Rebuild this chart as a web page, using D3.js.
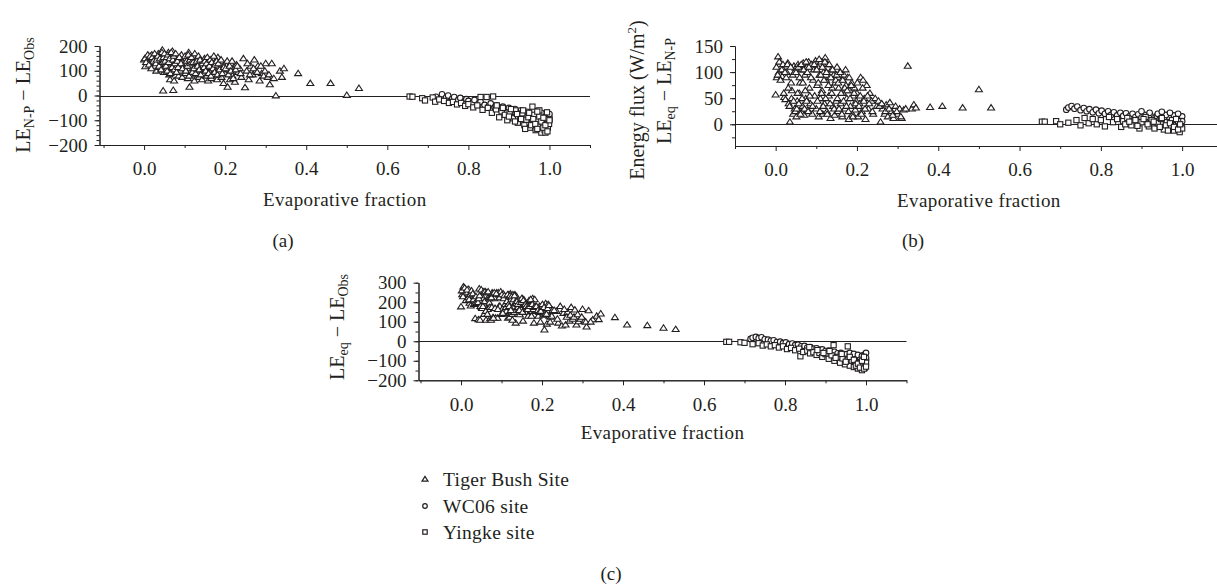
<!DOCTYPE html>
<html><head><meta charset="utf-8">
<script src="https://cdn.jsdelivr.net/npm/d3@7"></script>
<style>
body{margin:0;background:#fff}
svg text{font-family:"Liberation Serif","Times New Roman",serif;fill:#231f20}
</style>
</head><body><svg id="c" width="1217" height="588"></svg>
<script>
// ---------------- DATA ----------------
const xTickValues = [0, 0.2, 0.4, 0.6, 0.8, 1.0];
const xMinorValues = [-0.1, 0.1, 0.3, 0.5, 0.7, 0.9, 1.1];
const yTicksA = [-200, -100, 0, 100, 200];
const yTicksB = [0, 50, 100, 150];
const yTicksC = [-200, -100, 0, 100, 200, 300];
const legendLabels = ["Tiger Bush Site", "WC06 site", "Yingke site"];
const panelLabels = ["(a)", "(b)", "(c)"];
const xAxisTitle = "Evaporative fraction";

// Tiger Bush site: evaporative fraction and the three differences (batch 1)
const tigerEF = [0.000,0.003,0.006,0.008,0.010,0.013,0.016,0.019,0.021,0.024,0.027,0.030,0.032,0.035,0.038,0.040,0.043,0.045,0.047,0.049,
 0.051,0.053,0.055,0.058,0.060,0.062,0.064,0.066,0.068,0.070,0.072,0.074,0.077,0.079,0.081,0.083,0.085,0.088,0.090,0.092,0.094,0.096,0.098,
 0.100,0.102,0.104,0.106,0.108,0.110,0.112,0.114,0.116,0.118,0.120,0.122,0.124,0.126,0.128,0.131,0.133,0.135,0.137,0.139,0.141,0.143,0.145,0.147,0.149,
 0.151,0.153,0.155,0.158,0.160,0.162,0.164,0.166,0.168,0.171,0.173,0.175,0.177,0.180,0.182,0.184,0.187,0.189,0.191,0.194,0.196,0.198,
 0.200,0.203,0.206,0.209,0.212,0.215,0.218,0.221,0.224,0.228,0.232,0.236,0.240,0.245,0.249,
 0.253,0.258,0.263,0.268,0.272,0.276,0.281,0.285,0.290,0.295,0.300,0.305,0.310,0.315,0.325,0.335,0.340,0.345,
 0.380,0.410,0.460,0.500,0.530];
const tigerA = [145,118,150,160,140,155,130,165,145,135,120,100,150,170,115,140,130,185,20,95,
 160,125,105,145,175,85,65,130,110,180,22,60,140,95,120,150,80,135,100,165,75,125,145,
 110,90,150,130,70,175,35,120,100,140,85,160,60,115,130,95,150,75,125,105,140,65,120,90,150,
 110,80,145,60,125,95,135,70,115,150,85,105,130,65,155,120,95,140,75,110,50,125,
 90,120,35,105,65,130,80,115,55,125,95,110,75,150,33,
 100,65,120,85,145,100,120,60,90,80,130,75,45,130,0,100,75,110,
 90,50,50,2,30];
const tigerB = [57,90,130,100,120,95,92,105,52,48,100,118,40,5,80,65,20,112,30,108,
 15,45,115,60,80,25,105,35,118,18,95,50,110,28,120,70,40,115,20,85,105,55,122,
 30,75,110,15,95,50,120,65,20,100,40,128,85,25,115,55,90,12,105,70,35,95,18,80,45,
 110,25,70,100,40,85,15,60,95,30,75,50,90,10,65,35,80,20,55,70,28,45,
 60,15,40,90,25,85,50,10,75,30,60,45,20,50,35,
 45,5,30,20,38,15,42,25,12,35,20,30,12,28,112,30,38,32,
 33,35,32,67,32];
const tigerC = [178,240,280,260,255,250,222,268,197,183,220,218,190,118,195,205,112,270,110,203,
 175,170,220,205,255,110,170,165,228,198,117,110,250,123,240,220,120,250,120,250,180,180,255,
 140,165,245,145,165,225,155,185,120,240,125,245,145,140,240,150,240,95,230,175,175,160,138,170,195,
 220,105,215,160,165,180,150,130,210,180,160,155,220,95,215,155,175,160,130,180,100,170,
 150,135,60,195,90,190,130,125,130,155,155,155,95,180,80,
 145,85,150,105,175,115,162,85,102,115,165,105,75,158,112,130,113,142,
 123,85,82,69,62];

// Tiger Bush site (batch 2)
const tigerEF2 = [0.002,0.005,0.009,0.012,0.015,0.018,0.020,0.023,0.026,0.029,0.031,0.034,0.037,0.039,0.042,0.044,0.046,0.048,
 0.050,0.052,0.054,0.056,0.057,0.059,0.061,0.063,0.065,0.067,0.069,0.071,0.073,0.075,0.076,0.078,0.080,0.082,0.084,0.087,0.091,0.095,
 0.101,0.103,0.105,0.107,0.109,0.111,0.113,0.115,0.117,0.119,0.121,0.123,0.125,0.127,0.130,0.132,0.134,0.136,0.138,0.140,0.144,0.148,
 0.150,0.152,0.154,0.156,0.159,0.161,0.163,0.165,0.167,0.170,0.172,0.174,0.176,0.179,0.181,0.183,0.186,0.190,0.193,0.197,
 0.201,0.205,0.208,0.211,0.214,0.217,0.220,0.226,0.230,0.238,
 0.255,0.261,0.270,0.279,0.288,0.298,0.308,0.320];
const tigerA2 = [150,135,165,125,160,110,155,140,170,130,145,160,120,150,105,175,135,155,
 170,140,120,155,100,165,135,150,90,175,115,145,160,105,130,170,95,140,115,155,130,110,
 160,100,140,120,165,80,145,130,155,95,135,110,170,90,140,120,160,105,145,85,130,115,
 140,100,130,155,90,120,145,80,135,110,160,95,125,140,85,130,105,145,90,115,
 110,140,85,120,100,140,70,105,120,90,
 130,85,110,95,120,100,85,70];
const tigerB2 = [110,95,120,85,105,115,60,100,90,115,70,35,110,50,95,45,100,25,
 100,30,60,110,40,90,20,115,50,80,105,30,65,120,45,100,25,110,55,90,35,115,
 105,45,80,125,25,95,60,110,35,85,120,50,100,20,75,115,40,90,60,105,30,85,
 95,50,80,30,100,60,20,85,45,70,105,35,65,25,90,50,75,15,60,40,
 80,35,55,20,70,45,30,55,40,25,
 35,40,25,30,18,25,15,30];
const tigerC2 = [260,230,275,210,265,225,215,240,260,245,215,195,230,200,200,220,235,180,
 265,170,180,255,140,255,155,250,140,255,220,175,225,225,175,245,120,250,170,245,165,225,
 240,145,220,235,190,175,205,240,190,180,235,160,230,110,215,235,200,195,205,190,160,200,
 220,150,210,185,190,180,165,165,180,180,215,130,190,165,175,180,180,160,150,155,
 190,175,140,140,170,185,100,160,160,115,
 165,125,135,125,138,125,100,100];

// WC06 site [EF, value]
const wcA = [[0.720,-5],[0.735,5],[0.745,-8],[0.750,0],[0.760,-14],[0.765,-6],[0.775,-18],[0.780,-10],[0.790,-24],[0.795,-15],[0.800,-22],[0.810,-30],[0.815,-18],[0.825,-34],[0.830,-25],[0.840,-38],[0.850,-44],[0.855,-32],[0.865,-48],[0.870,-40],[0.880,-54],[0.885,-45],[0.895,-60],[0.900,-50],[0.910,-66],[0.915,-55],[0.925,-72],[0.930,-60],[0.940,-78],[0.945,-66],[0.955,-84],[0.960,-72],[0.970,-90],[0.975,-78],[0.985,-96],[0.990,-82],[0.995,-70],[1.000,-100],[1.000,-88],
 [0.960,-60],[0.970,-75],[0.980,-70],[0.990,-90],[0.995,-100],[1.000,-75]];
const wcB = [[0.715,28],[0.720,32],[0.728,35],[0.735,30],[0.742,34],[0.750,27],[0.758,31],[0.765,25],[0.772,29],[0.780,23],[0.788,28],[0.795,21],[0.802,26],[0.810,20],[0.818,25],[0.825,18],[0.832,23],[0.840,17],[0.848,22],[0.855,16],[0.862,21],[0.870,15],[0.878,20],[0.885,14],[0.892,19],[0.900,13],[0.908,18],[0.915,12],[0.922,17],[0.930,11],[0.938,16],[0.945,10],[0.952,15],[0.960,9],[0.968,14],[0.975,8],[0.982,13],[0.990,7],[0.995,12],[1.000,15],[1.000,6],
 [0.900,25],[0.920,22],[0.940,20],[0.960,18],[0.980,17],[0.990,20],[0.970,22],[0.950,24]];
const wcC = [[0.715,12],[0.720,18],[0.728,22],[0.735,16],[0.742,20],[0.750,10],[0.758,8],[0.765,2],[0.772,5],[0.780,-4],[0.788,-2],[0.795,-10],[0.802,-6],[0.810,-15],[0.818,-12],[0.825,-20],[0.832,-18],[0.840,-26],[0.848,-24],[0.855,-32],[0.862,-30],[0.870,-38],[0.878,-36],[0.885,-44],[0.892,-42],[0.900,-50],[0.908,-48],[0.915,-56],[0.922,-54],[0.930,-62],[0.938,-60],[0.945,-68],[0.952,-66],[0.960,-74],[0.968,-72],[0.975,-80],[0.982,-78],[0.990,-86],[0.995,-70],[1.000,-95],[1.000,-60],
 [0.960,-60],[0.970,-65],[0.980,-70],[0.990,-75],[1.000,-85],[0.985,-95],[0.995,-100]];

// Yingke site [EF, value]
const yingkeA = [[0.655,-4],[0.662,-5],[0.686,-11],[0.693,-20],[0.712,-8],[0.718,-25],[0.728,-16],[0.740,-22],[0.752,-30],[0.762,-26],[0.772,-36],[0.782,-30],[0.792,-42],[0.800,-35],[0.812,-48],[0.822,-40],[0.830,-6],[0.845,-6],[0.861,-4],[0.835,-58],[0.848,-50],[0.858,-70],[0.868,-56],[0.876,-88],[0.882,-64],[0.890,-78],[0.896,-100],[0.902,-68],[0.910,-92],[0.916,-60],[0.922,-110],[0.928,-84],[0.933,-72],[0.938,-120],[0.943,-98],[0.948,-88],[0.952,-130],[0.957,-108],[0.962,-78],[0.966,-140],[0.971,-100],[0.975,-125],[0.980,-150],[0.984,-112],[0.988,-140],[0.992,-95],[0.996,-130],[0.999,-115],[0.994,-68],[0.958,-45],[0.975,-60],[0.990,-150],
 [0.870,-40],[0.885,-50],[0.900,-85],[0.905,-55],[0.915,-105],[0.920,-75],[0.930,-95],[0.935,-60],[0.940,-135],[0.950,-70],[0.955,-120],[0.960,-95],[0.965,-115],[0.970,-135],[0.975,-85],[0.980,-105],[0.985,-130],[0.990,-120],[0.995,-145],[1.000,-100],[0.985,-90],[0.970,-65]];
const yingkeB = [[0.655,5],[0.662,5],[0.690,6],[0.700,0],[0.720,3],[0.740,8],[0.750,-2],[0.760,12],[0.770,2],[0.780,10],[0.790,0],[0.800,8],[0.810,-4],[0.820,14],[0.830,4],[0.840,10],[0.850,-5],[0.855,6],[0.865,12],[0.875,-2],[0.885,8],[0.895,-8],[0.900,4],[0.910,14],[0.918,-4],[0.925,8],[0.932,-8],[0.940,2],[0.948,10],[0.955,-10],[0.962,4],[0.968,-6],[0.975,8],[0.980,-12],[0.985,-2],[0.990,6],[0.994,-15],[0.998,-5],[1.000,-8],
 [0.860,0],[0.870,5],[0.890,-3],[0.905,10],[0.915,0],[0.930,5],[0.945,-5],[0.950,12],[0.960,-2],[0.965,-12],[0.970,2],[0.980,-5],[0.990,-10],[0.995,0],[0.985,10]];
const yingkeC = [[0.655,-3],[0.662,-3],[0.690,-5],[0.700,-8],[0.720,-15],[0.735,-10],[0.745,-22],[0.755,-16],[0.765,-26],[0.775,-20],[0.785,-32],[0.795,-26],[0.805,-40],[0.815,-34],[0.825,-46],[0.835,-38],[0.838,-77],[0.845,-55],[0.855,-48],[0.862,-62],[0.870,-56],[0.878,-70],[0.885,-60],[0.892,-80],[0.900,-66],[0.908,-90],[0.915,-72],[0.920,-20],[0.922,-100],[0.930,-80],[0.936,-110],[0.942,-88],[0.948,-118],[0.955,-26],[0.955,-95],[0.960,-125],[0.965,-100],[0.970,-132],[0.975,-106],[0.980,-140],[0.985,-112],[0.990,-148],[0.993,-120],[0.997,-135],[1.000,-110],
 [0.860,-30],[0.880,-45],[0.895,-60],[0.910,-50],[0.925,-85],[0.940,-65],[0.950,-105],[0.960,-80],[0.970,-95],[0.975,-125],[0.980,-115],[0.985,-135],[0.990,-100],[0.995,-140],[1.000,-130],[0.995,-80]];

// ---------------- DRAW ----------------
const INK = "#231f20";
const svg = d3.select("#c");
const triPath = "M0,-3L3.5,2.4L-3.5,2.4Z";

function styleAxis(sel){
  sel.attr("font-family", "Liberation Serif, serif").attr("font-size", 19);
  sel.selectAll("path,line").attr("stroke", INK);
  sel.selectAll("text").attr("fill", INK);
}

function addRich(textSel, parts, size){
  parts.forEach(p => {
    const ts = textSel.append("tspan").text(p.t);
    if (p.sub) ts.attr("font-size", size*0.7).attr("dy", size*0.22);
    else if (p.sup) ts.attr("font-size", size*0.65).attr("dy", -size*0.4);
    else if (p.back) ts.attr("dy", p.back);
  });
}

function drawPanel(p){
  const g = svg.append("g");
  const x = d3.scaleLinear().domain(p.xDomain).range(p.xRange);
  const y = d3.scaleLinear().domain(p.yDomain).range(p.yRange);
  const yb = p.yRange[0];

  g.append("g").attr("transform", `translate(0,${yb})`)
    .call(d3.axisBottom(x).tickValues(xMinorValues.filter(v => v >= p.xDomain[0]-1e-9 && v <= p.xDomain[1]+1e-9)).tickSize(3).tickFormat("").tickSizeOuter(0))
    .call(styleAxis);
  g.append("g").attr("transform", `translate(0,${yb})`)
    .call(d3.axisBottom(x).tickValues(xTickValues).tickSize(5).tickPadding(12).tickFormat(d3.format(".1f")).tickSizeOuter(0))
    .call(styleAxis);
  g.append("g").attr("transform", `translate(${p.xRange[0]},0)`)
    .call(d3.axisLeft(y).tickValues(p.yMinor).tickSize(3).tickFormat("").tickSizeOuter(0))
    .call(styleAxis);
  g.append("g").attr("transform", `translate(${p.xRange[0]},0)`)
    .call(d3.axisLeft(y).tickValues(p.yTicks).tickSize(5).tickPadding(7).tickSizeOuter(0))
    .call(styleAxis);

  g.append("line").attr("x1", p.xRange[0]).attr("x2", p.xRange[1])
    .attr("y1", Math.round(y(0))+0.5).attr("y2", Math.round(y(0))+0.5)
    .attr("stroke", INK).attr("stroke-width", 1);

  const tri = tigerEF.map((e,i)=>[e,p.tiger[i]]).concat(tigerEF2.map((e,i)=>[e,p.tiger2[i]]));
  g.append("g").selectAll("path").data(tri).join("path")
    .attr("d", triPath).attr("transform", d => `translate(${x(d[0])},${y(d[1])})`)
    .attr("fill", "#fff").attr("stroke", INK).attr("stroke-width", 1.1);
  g.append("g").selectAll("circle").data(p.wc).join("circle")
    .attr("cx", d => x(d[0])).attr("cy", d => y(d[1])).attr("r", 2.8)
    .attr("fill", "#fff").attr("stroke", INK).attr("stroke-width", 1.1);
  g.append("g").selectAll("rect").data(p.yk).join("rect")
    .attr("x", d => x(d[0]) - 2.6).attr("y", d => y(d[1]) - 2.6).attr("width", 5.2).attr("height", 5.2)
    .attr("fill", "#fff").attr("stroke", INK).attr("stroke-width", 1.1);

  g.append("text").attr("x", (p.xRange[0]+p.xRange[1])/2).attr("y", yb + p.xTitleOff)
    .attr("text-anchor", "middle").attr("font-size", 19).attr("letter-spacing", 0.4).text(xAxisTitle);
  g.append("text").attr("x", p.labelPos[0]).attr("y", p.labelPos[1])
    .attr("text-anchor", "middle").attr("font-size", 19).text(p.label);
  p.yTitles.forEach(t => {
    const tx = g.append("text").attr("transform", `translate(${t.x},${t.y}) rotate(-90)`)
      .attr("text-anchor", "middle").attr("font-size", 20).attr("y", 7);
    addRich(tx, t.parts, 20);
  });
}

const subDy = 20*0.22;
drawPanel({
  xDomain: [-0.11, 1.1], xRange: [99.5, 590],
  yDomain: [-200, 200], yRange: [145, 46],
  yTicks: yTicksA, yMinor: d3.range(-200, 201, 20),
  tiger: tigerA, tiger2: tigerA2, wc: wcA, yk: yingkeA,
  xTitleOff: 61, label: panelLabels[0], labelPos: [283, 247],
  yTitles: [{x: 23, y: 95, parts: [{t:"LE"},{t:"N-P",sub:true},{t:" − LE",back:-subDy},{t:"Obs",sub:true}]}]
});
drawPanel({
  xDomain: [-0.1, 1.1], xRange: [735, 1222.8],
  yDomain: [-41.6, 150], yRange: [146, 46],
  yTicks: yTicksB, yMinor: d3.range(-25, 151, 25),
  tiger: tigerB, tiger2: tigerB2, wc: wcB, yk: yingkeB,
  xTitleOff: 61, label: panelLabels[1], labelPos: [913, 247],
  yTitles: [
    {x: 637, y: 100, parts: [{t:"Energy flux (W/m"},{t:"2",sup:true},{t:")",back:20*0.4}]},
    {x: 664, y: 91, parts: [{t:"LE"},{t:"eq",sub:true},{t:" − LE",back:-subDy},{t:"N-P",sub:true}]}
  ]
});
drawPanel({
  xDomain: [-0.105, 1.1], xRange: [418.5, 906.5],
  yDomain: [-200, 300], yRange: [380.3, 282.7],
  yTicks: yTicksC, yMinor: d3.range(-200, 301, 50),
  tiger: tigerC, tiger2: tigerC2, wc: wcC, yk: yingkeC,
  xTitleOff: 59, label: panelLabels[2], labelPos: [611, 580],
  yTitles: [{x: 337, y: 327, parts: [{t:"LE"},{t:"eq",sub:true},{t:" − LE",back:-subDy},{t:"Obs",sub:true}]}]
});

// legend
const legendY = [479, 506, 532];
const lg = svg.append("g");
legendLabels.forEach((lab, i) => {
  const cy = legendY[i];
  if (i === 0) lg.append("path").attr("d", "M0,-2.6L3,2.1L-3,2.1Z").attr("transform", `translate(425,${cy})`)
    .attr("fill", "#fff").attr("stroke", INK).attr("stroke-width", 1.2);
  if (i === 1) lg.append("circle").attr("cx", 425).attr("cy", cy).attr("r", 2.3)
    .attr("fill", "#fff").attr("stroke", INK).attr("stroke-width", 1.2);
  if (i === 2) lg.append("rect").attr("x", 422.8).attr("y", cy-2.2).attr("width", 4.4).attr("height", 4.4)
    .attr("fill", "#fff").attr("stroke", INK).attr("stroke-width", 1.2);
  lg.append("text").attr("x", 443).attr("y", cy + 6.5).attr("font-size", 19.5).attr("letter-spacing", 0.3).text(lab);
});
</script>
</body></html>
